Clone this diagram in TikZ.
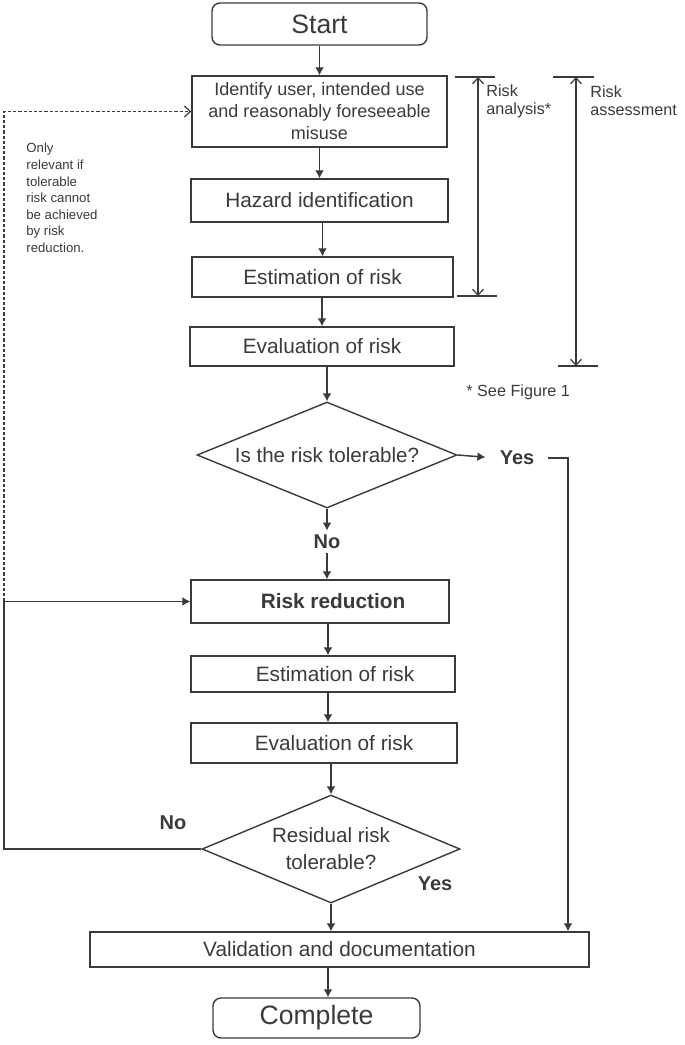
\documentclass[tikz,border=0pt]{standalone}
\usepackage{fontspec}
\setmainfont{Liberation Sans}
\usetikzlibrary{shapes.geometric,arrows.meta}
\definecolor{ink}{HTML}{3A3A3A}
\tikzset{
  procbox/.style={draw=ink, text=ink, line width=0.7pt, rectangle, inner sep=0pt,
    minimum width=130pt, minimum height=20pt, align=center,
    font=\fontsize{10.4}{12}\selectfont},
  termbox/.style={procbox, rounded corners=4pt, font=\fontsize{13.3}{15}\selectfont},
  decision/.style={draw=ink, text=ink, line width=0.7pt, diamond, aspect=2.45, inner sep=0pt,
    minimum width=130pt, minimum height=53pt, align=center,
    font=\fontsize{10.3}{13.5}\selectfont},
  answer/.style={text=ink, inner sep=2pt, font=\fontsize{10}{12}\bfseries\selectfont},
  sidenote/.style={text=ink, inner sep=0pt, align=left, font=\fontsize{8.1}{9}\selectfont},
  dashnote/.style={text=ink, inner sep=0pt, align=left, font=\fontsize{6.6}{8.3}\selectfont},
  flow/.style={draw=ink, line width=0.75pt, -{Latex[length=4pt,width=4.5pt]}},
  backflow/.style={draw=ink, line width=0.6pt, dash pattern=on 1.6pt off 1pt,
    -{Straight Barb[length=3pt,width=5.5pt]}},
  rangearrow/.style={draw=ink, line width=0.6pt,
    {Straight Barb[length=3pt,width=5.5pt]}-{Straight Barb[length=3pt,width=5.5pt]}},
  rangetick/.style={draw=ink, line width=0.6pt},
}
\begin{document}
\begin{tikzpicture}[x=0.5pt,y=-0.5pt]
  \useasboundingbox (0,0) rectangle (685,1045);

  %first pass
  \node[termbox, minimum width=107.5pt, minimum height=21pt] (start) at (319.5,24) {Start};
  \node[procbox, minimum width=127.5pt, minimum height=35.5pt, font=\fontsize{9}{11}\selectfont] (ident) at (319.5,111.5)
    {Identify user, intended use\\and reasonably foreseeable\\misuse};
  \node[procbox, minimum width=128.5pt, minimum height=21.5pt] (hazard) at (319.5,200.5) {Hazard identification};
  \node[procbox, minimum width=130.5pt] (est1) at (322.5,277) {Estimation of risk};
  \node[procbox, minimum width=132pt, minimum height=19.5pt] (eval1) at (322,346.5) {Evaluation of risk};
  \node[decision] (d1) at (327,455) {Is the risk tolerable?};
  \node[answer] (no1) at (327,542) {No};
  \node[answer] (yes1) at (517,458) {Yes};

  %reduction loop
  \node[procbox, minimum width=129pt, minimum height=21.5pt] (rred) at (320,601.5) {\hspace*{13pt}\textbf{Risk reduction}};
  \node[procbox, minimum width=132pt, minimum height=18pt] (est2) at (323,674) {\hspace*{12pt}Estimation of risk};
  \node[procbox, minimum width=133pt] (eval2) at (324,743) {\hspace*{10pt}Evaluation of risk};
  \node[decision, minimum width=129pt, minimum height=54pt] (d2) at (331,849) {Residual risk\\tolerable?};
  \node[answer] (no2) at (173,823) {No};
  \node[answer] (yes2) at (435,884) {Yes};
  \node[procbox, minimum width=249.5pt, minimum height=17.5pt] (valid) at (339.5,949.5) {Validation and documentation};
  \node[termbox, minimum width=103.5pt, minimum height=20pt] (done) at (316.5,1018) {Complete};

  %side notes
  \node[dashnote, anchor=west] (why) at (26,198)
    {Only\\relevant if\\tolerable\\risk cannot\\be achieved\\by risk\\reduction.};
  \node[sidenote, anchor=west] (ralabel) at (486,101) {Risk\\analysis*};
  \node[sidenote, anchor=west] (aslabel) at (590,101) {Risk\\assessment};
  \node[sidenote, anchor=west] (seefig) at (466,392) {* See Figure 1};

  \coordinate (spine) at (328,0);
  \coordinate (yesx) at (568,0);
  \coordinate (loopx) at (4,0);

  %main flow
  \draw[flow] (start.south) -- (ident.north);
  \draw[flow] (ident.south) -- (hazard.north);
  \draw[flow] (est1.north |- hazard.south) -- (est1.north);
  \draw[flow] (eval1.north |- est1.south) -- (eval1.north);
  \draw[flow] (d1.north |- eval1.south) -- (d1.north);
  \draw[flow] (d1.south) -- (no1.north);
  \draw[flow] (no1.south) -- (no1.south |- rred.north);
  \draw[flow] (rred.south -| spine) -- (est2.north -| spine);
  \draw[flow] (est2.south -| spine) -- (eval2.north -| spine);
  \draw[flow] (d2.north |- eval2.south) -- (d2.north);
  \draw[flow] (d2.south) -- (d2.south |- valid.north);
  \draw[flow] (valid.south -| spine) -- (done.north -| spine);

  %yes branch
  \draw[flow, shorten >=5pt] (d1.east) -- (yes1.west);
  \draw[flow, shorten <=4.5pt] (yes1.east) -| (yesx |- valid.north);

  %no branch and back to start
  \draw[flow] (d2.west) -| (loopx |- rred.west) -- (rred.west);
  \draw[backflow] (loopx |- rred.west) |- (ident.west);

  %brackets
  \draw[rangetick] (455,77) -- (495,77);
  \draw[rangetick] (457,296) -- (497,296);
  \draw[rangearrow] (478,77) -- (478,296);
  \draw[rangetick] (553,77) -- (594,77);
  \draw[rangetick] (558,366) -- (598,366);
  \draw[rangearrow] (576,77) -- (576,366);
\end{tikzpicture}
\end{document}
